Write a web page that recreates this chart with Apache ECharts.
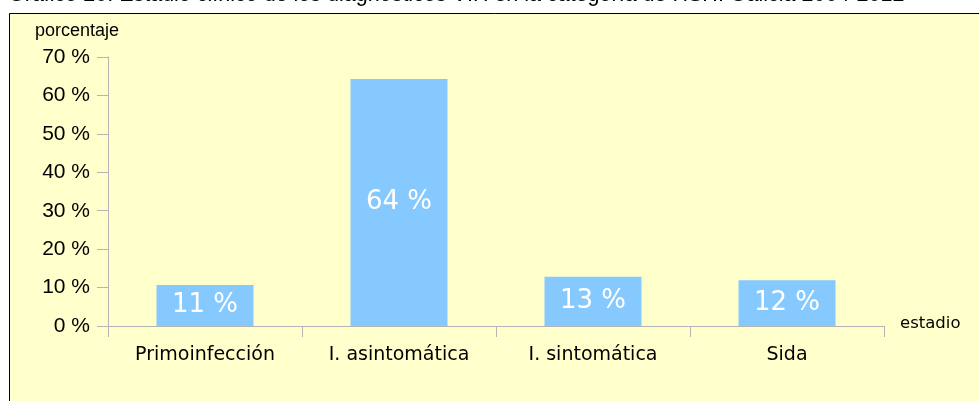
<!DOCTYPE html>
<html>
<head>
<meta charset="utf-8">
<script src="https://cdn.jsdelivr.net/npm/echarts@6/dist/echarts.min.js"></script>
<style>
  html, body { margin: 0; padding: 0; background: #ffffff; }
  #chart { width: 979px; height: 401px; }
</style>
</head>
<body>
<div id="chart"></div>
<script>
// estadio clinico, porcentaje
const categories = ["Primoinfección", "I. asintomática", "I. sintomática", "Sida"];
const values = [10.7, 64.3, 12.8, 11.9];
const yTicks = [0, 10, 20, 30, 40, 50, 60, 70];

var chart = echarts.init(document.getElementById("chart"));
var axisGrey = "#b4b4b4";

option = {
  backgroundColor: "#ffffff",
  animation: false,
  graphic: [
    {
      type: "rect",
      shape: { x: 9.5, y: 13.5, width: 980, height: 400 },
      style: { fill: "#ffffcc", stroke: "#000000", lineWidth: 1 },
      z: -10,
    },
    {
      type: "text",
      left: 8,
      top: -16,
      style: {
        text: "Gráfico 20. Estadio clínico de los diagnósticos VIH en la categoría de HSH. Galicia 2004-2012",
        font: "21.5px 'Liberation Sans'",
        fill: "#000000",
      },
    },
    {
      type: "text",
      left: 35,
      top: 22,
      style: {
        text: "porcentaje",
        font: "18px 'Liberation Sans Narrow', 'Liberation Sans'",
        fill: "#000000",
      },
    },
  ],
  grid: { left: 108, right: 95, top: 57, bottom: 75 },
  xAxis: {
    type: "category",
    data: categories,
    name: "estadio",
    nameLocation: "end",
    nameGap: 16,
    nameTextStyle: {
      fontFamily: "DejaVu Sans",
      fontSize: 16.5,
      color: "#000000",
      verticalAlign: "bottom",
      padding: [0, 0, -6, 0],
    },
    axisLine: { lineStyle: { color: axisGrey, width: 1 } },
    axisTick: { show: true, length: 11, lineStyle: { color: axisGrey } },
    axisLabel: {
      margin: 20,
      fontFamily: "DejaVu Sans",
      fontSize: 19,
      color: "#000000",
    },
  },
  yAxis: {
    type: "value",
    min: yTicks[0],
    max: yTicks[yTicks.length - 1],
    interval: 10,
    splitLine: { show: false },
    axisLine: { show: true, lineStyle: { color: axisGrey, width: 1 } },
    axisTick: { show: true, length: 11, lineStyle: { color: axisGrey } },
    axisLabel: {
      margin: 18,
      fontFamily: "Liberation Sans",
      fontSize: 21,
      color: "#000000",
      formatter: "{value} %",
    },
  },
  series: [
    {
      type: "bar",
      data: values,
      barWidth: "50%",
      itemStyle: { color: "#86c9ff" },
      label: {
        show: true,
        position: "inside",
        color: "#ffffff",
        fontFamily: "DejaVu Sans",
        fontSize: 26,
        fontWeight: "normal",
        formatter: function (p) {
          return Math.round(p.value) + " %";
        },
      },
    },
  ],
};
chart.setOption(option);
</script>
</body>
</html>
